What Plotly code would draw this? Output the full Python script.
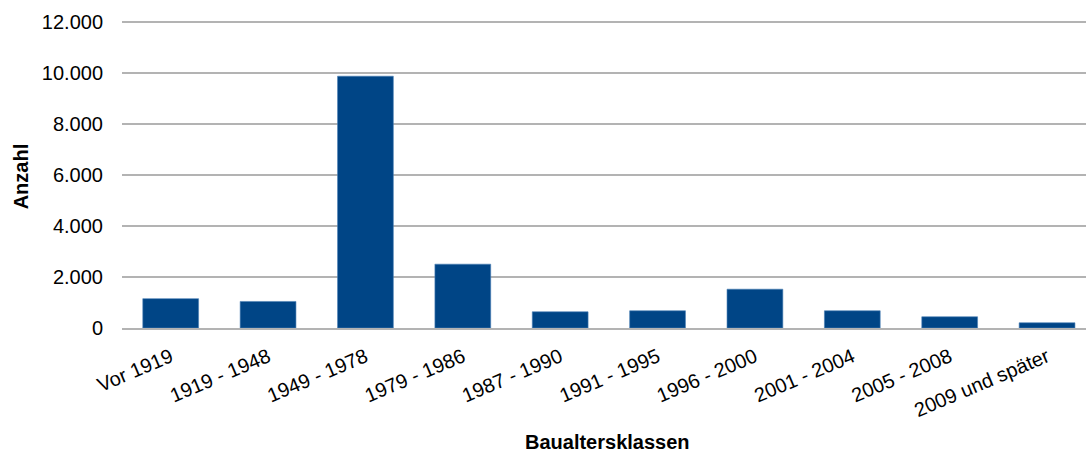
import plotly.graph_objects as go

categories = ["Vor 1919", "1919 - 1948", "1949 - 1978", "1979 - 1986", "1987 - 1990",
              "1991 - 1995", "1996 - 2000", "2001 - 2004", "2005 - 2008", "2009 und später"]
values = [1150, 1040, 9860, 2500, 635, 675, 1520, 675, 440, 205]
y_ticks = [0, 2000, 4000, 6000, 8000, 10000, 12000]
y_tick_labels = ["0", "2.000", "4.000", "6.000", "8.000", "10.000", "12.000"]

FONT = "Liberation Sans, Arial, sans-serif"

fig = go.Figure(go.Bar(
    x=categories, y=values,
    marker=dict(color="#004586", line=dict(color="#4a7fb5", width=0.6)),
))

fig.update_layout(
    width=1086, height=453,
    margin=dict(l=122, r=0, t=19, b=125),
    paper_bgcolor="white", plot_bgcolor="white",
    bargap=0.427,
    showlegend=False,
    font=dict(family=FONT, size=20, color="#000000"),
    xaxis=dict(
        range=[-0.5, 9.4],
        tickangle=-23,
        tickfont=dict(family=FONT, size=20, color="#000000"),
        showgrid=False,
        showline=True, linecolor="#b3b3b3", linewidth=1.5,
        ticks="", ticklabelstandoff=8,
    ),
    yaxis=dict(
        range=[0, 12100],
        tickvals=y_ticks, ticktext=y_tick_labels,
        tickfont=dict(family=FONT, size=20, color="#000000"),
        showgrid=True, gridcolor="#b3b3b3", gridwidth=1.5,
        zeroline=False,
        showline=False, ticks="", ticklabelstandoff=18,
    ),
    annotations=[
        dict(text="<b>Baualtersklassen</b>", x=0.504, y=-0.368, xref="paper", yref="paper",
             xanchor="center", yanchor="middle", showarrow=False,
             font=dict(family=FONT, size=20, color="#000000")),
        dict(text="<b>Anzahl</b>", x=-0.105, y=0.49, xref="paper", yref="paper",
             xanchor="center", yanchor="middle", showarrow=False, textangle=-90,
             font=dict(family=FONT, size=20, color="#000000")),
    ],
)

fig.write_html("out.html", config={"displayModeBar": False},
               post_script="document.body.style.margin='0';document.body.style.overflow='hidden';")
